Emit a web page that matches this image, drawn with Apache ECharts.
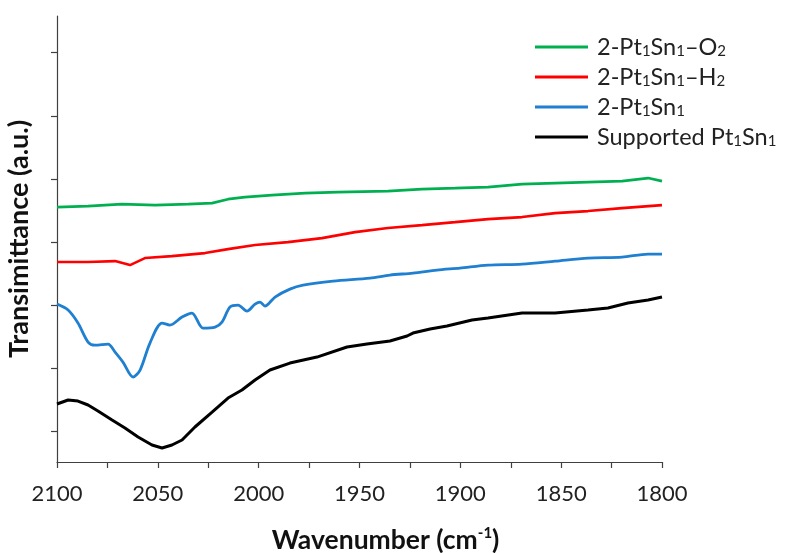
<!DOCTYPE html>
<html>
<head>
<meta charset="utf-8">
<script src="https://cdn.jsdelivr.net/npm/echarts@6/dist/echarts.min.js"></script>
<style>html,body{margin:0;padding:0;background:#fff}#c{width:793px;height:553px}</style>
</head>
<body>
<div id="c"></div>
<script>
// wavenumber (cm-1) and transmittance (a.u., offset) per series
var greenWn = [2100, 2084.6, 2067.8, 2051.4, 2035.0, 2023.1, 2015.2, 2006.8, 1993.4, 1977.0, 1960.7, 1935.9, 1919.0, 1902.6, 1886.3, 1869.4, 1853.0, 1836.7, 1819.8, 1806.9, 1800];
var greenVal = [40.35, 40.51, 40.82, 40.66, 40.82, 40.98, 41.61, 41.93, 42.25, 42.56, 42.72, 42.88, 43.2, 43.35, 43.51, 43.99, 44.15, 44.3, 44.46, 44.94, 44.46];

var redWn = [2100, 2084.6, 2071.2, 2063.8, 2056.4, 2043.0, 2026.6, 2015.2, 2001.8, 1985.5, 1968.6, 1952.2, 1935.9, 1919.0, 1902.6, 1886.3, 1869.4, 1853.0, 1836.7, 1819.8, 1800];
var redVal = [31.65, 31.65, 31.8, 31.17, 32.28, 32.59, 33.07, 33.7, 34.34, 34.81, 35.44, 36.39, 37.03, 37.5, 37.97, 38.45, 38.77, 39.4, 39.72, 40.19, 40.66];

var blueWn = [2100, 2094.5, 2089.6, 2084.6, 2081.2, 2074.7, 2071.2, 2067.3, 2062.3, 2058.8, 2053.9, 2047.9, 2044, 2038, 2033.1, 2027.6, 2021.6, 2018.2, 2014.2, 2010.2, 2005.8, 2001.8, 1999.3, 1996.9, 1991.9, 1984.5, 1978, 1963.1, 1944.8, 1934.9, 1923.5, 1911.6, 1900.2, 1886.3, 1869.4, 1853, 1836.7, 1819.8, 1806.9, 1800];
var blueVal = [25.0, 24.05, 22.0, 18.99, 18.5, 18.67, 17.4, 15.82, 13.45, 14.56, 18.83, 21.99, 21.68, 22.94, 23.58, 21.2, 21.36, 22.15, 24.53, 24.84, 23.89, 25.0, 25.32, 24.68, 26.11, 27.37, 28.0, 28.64, 29.11, 29.59, 29.9, 30.38, 30.7, 31.17, 31.33, 31.8, 32.28, 32.44, 32.91, 32.91];

var blackWn = [2100, 2094.5, 2089.6, 2084.6, 2079.7, 2072.7, 2066.3, 2059.8, 2052.9, 2047.9, 2043.0, 2038.0, 2031.6, 2023.1, 2015.2, 2008.3, 2001.8, 1994.4, 1984.5, 1971.1, 1956.2, 1946.3, 1934.9, 1926.4, 1923.5, 1915.0, 1906.6, 1894.2, 1886.3, 1869.4, 1853.0, 1836.7, 1826.8, 1816.9, 1806.9, 1800];
var blackVal = [9.18, 9.81, 9.65, 9.02, 8.07, 6.65, 5.38, 3.96, 2.69, 2.22, 2.69, 3.48, 5.54, 7.91, 10.13, 11.39, 12.97, 14.56, 15.66, 16.61, 18.2, 18.67, 19.15, 19.94, 20.41, 21.04, 21.52, 22.47, 22.78, 23.58, 23.58, 24.05, 24.37, 25.16, 25.63, 26.11];

var seriesNames = ['2-Pt1Sn1–O2', '2-Pt1Sn1–H2', '2-Pt1Sn1', 'Supported Pt1Sn1'];
var legendRich = {
  '2-Pt1Sn1–O2': '2-Pt{s|1}Sn{s|1}–O{s|2}',
  '2-Pt1Sn1–H2': '2-Pt{s|1}Sn{s|1}–H{s|2}',
  '2-Pt1Sn1': '2-Pt{s|1}Sn{s|1}',
  'Supported Pt1Sn1': 'Supported Pt{s|1}Sn{s|1}'
};
var xTicks = [1800, 1850, 1900, 1950, 2000, 2050, 2100];
var yTickValues = [4.8, 14.8, 24.8, 34.8, 44.8, 54.8, 64.8];

function pairs(xs, ys) { return xs.map(function (x, i) { return [x, ys[i]]; }); }

var FONT = 'Lato, Open Sans, sans-serif';
var axisCol = '#404040';
var chart = echarts.init(document.getElementById('c'), null, {renderer: 'canvas'});
chart.setOption({
  animation: false,
  backgroundColor: '#fff',
  grid: {left: 57, right: 131, top: 16, bottom: 91, containLabel: false, outerBoundsMode: 'none'},
  xAxis: {
    type: 'value', min: 1800, max: 2100, interval: 50, inverse: true,
    axisLine: {lineStyle: {color: axisCol, width: 1.2}},
    axisTick: {show: true, length: 6, inside: false, lineStyle: {color: axisCol, width: 1.2}},
    minorTick: {show: true, splitNumber: 2, length: 6, lineStyle: {color: axisCol, width: 1.2}},
    splitLine: {show: false},
    axisLabel: {fontFamily: FONT, fontSize: 22, color: '#222', margin: 21,
      formatter: function (v) { return String(v); }},
    name: 'Wavenumber (cm{sup|-1})',
    nameLocation: 'middle', nameGap: 64,
    nameTextStyle: {
      fontFamily: FONT, fontSize: 26.5, fontWeight: 'bold', color: '#111', padding: [0, 0, 0, 52],
      rich: {sup: {fontFamily: FONT, fontSize: 15, fontWeight: 'bold', verticalAlign: 'top', padding: [0, 0, 13, 0]}}
    }
  },
  yAxis: {
    type: 'value', min: 0, max: 70.6,
    axisLine: {show: true, lineStyle: {color: axisCol, width: 1.2}},
    axisTick: {show: true, length: 6, inside: false, customValues: yTickValues, lineStyle: {color: axisCol, width: 1.2}},
    axisLabel: {show: false},
    splitLine: {show: false},
    name: 'Transimittance (a.u.)',
    nameLocation: 'middle', nameGap: 24, nameRotate: 90,
    nameTextStyle: {fontFamily: FONT, fontSize: 27, fontWeight: 'bold', color: '#111'}
  },
  legend: {
    orient: 'vertical', left: 535, top: 35, padding: 0,
    itemWidth: 53, itemHeight: 3, itemGap: 6,
    icon: 'rect',
    data: seriesNames,
    formatter: function (n) { return legendRich[n]; },
    textStyle: {
      fontFamily: FONT, fontSize: 23.5, color: '#222', lineHeight: 24, padding: [0, 0, 0, 4],
      rich: {s: {fontFamily: FONT, fontSize: 15, color: '#222', verticalAlign: 'bottom', padding: [9, 0, 0, 0]}}
    }
  },
  series: [
    {name: seriesNames[0], type: 'line', data: pairs(greenWn, greenVal), showSymbol: false, color: '#00B050', lineStyle: {width: 2.6}},
    {name: seriesNames[1], type: 'line', data: pairs(redWn, redVal), showSymbol: false, color: '#FF0000', lineStyle: {width: 2.6}},
    {name: seriesNames[2], type: 'line', data: pairs(blueWn, blueVal), showSymbol: false, smooth: 0.3, color: '#1F7FD0', lineStyle: {width: 2.8}},
    {name: seriesNames[3], type: 'line', data: pairs(blackWn, blackVal), showSymbol: false, color: '#000000', lineStyle: {width: 3}}
  ]
});
</script>
</body>
</html>
